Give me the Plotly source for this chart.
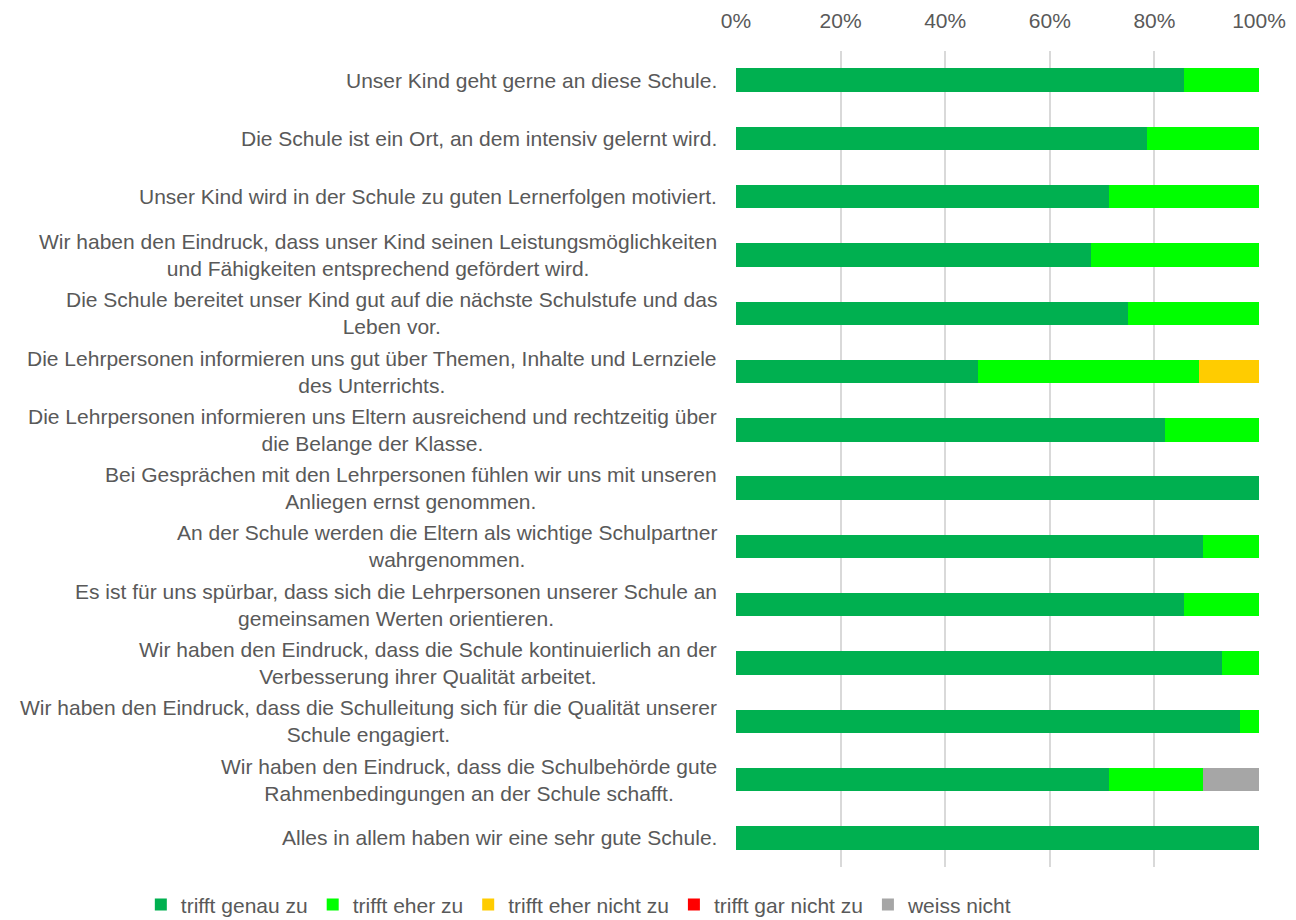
import plotly.graph_objects as go

# survey statements, top to bottom
statements = [
    "Unser Kind geht gerne an diese Schule.",
    "Die Schule ist ein Ort, an dem intensiv gelernt wird.",
    "Unser Kind wird in der Schule zu guten Lernerfolgen motiviert.",
    "Wir haben den Eindruck, dass unser Kind seinen Leistungsmöglichkeiten<br>und Fähigkeiten entsprechend gefördert wird.",
    "Die Schule bereitet unser Kind gut auf die nächste Schulstufe und das<br>Leben vor.",
    "Die Lehrpersonen informieren uns gut über Themen, Inhalte und Lernziele<br>des Unterrichts.",
    "Die Lehrpersonen informieren uns Eltern ausreichend und rechtzeitig über<br>die Belange der Klasse.",
    "Bei Gesprächen mit den Lehrpersonen fühlen wir uns mit unseren<br>Anliegen ernst genommen.",
    "An der Schule werden die Eltern als wichtige Schulpartner<br>wahrgenommen.",
    "Es ist für uns spürbar, dass sich die Lehrpersonen unserer Schule an<br>gemeinsamen Werten orientieren.",
    "Wir haben den Eindruck, dass die Schule kontinuierlich an der<br>Verbesserung ihrer Qualität arbeitet.",
    "Wir haben den Eindruck, dass die Schulleitung sich für die Qualität unserer<br>Schule engagiert.",
    "Wir haben den Eindruck, dass die Schulbehörde gute<br>Rahmenbedingungen an der Schule schafft.",
    "Alles in allem haben wir eine sehr gute Schule.",
]

# shares in percent
genau_zu = [85.7, 78.6, 71.4, 67.9, 75.0, 46.2, 82.1, 100.0, 89.3, 85.7, 92.9, 96.4, 71.4, 100.0]
eher_zu = [14.3, 21.4, 28.6, 32.1, 25.0, 42.3, 17.9, 0.0, 10.7, 14.3, 7.1, 3.6, 17.9, 0.0]
eher_nicht_zu = [0, 0, 0, 0, 0, 11.5, 0, 0, 0, 0, 0, 0, 0, 0]
gar_nicht_zu = [0, 0, 0, 0, 0, 0, 0, 0, 0, 0, 0, 0, 0, 0]
weiss_nicht = [0, 0, 0, 0, 0, 0, 0, 0, 0, 0, 0, 0, 10.7, 0]

series = [
    ("trifft genau zu", genau_zu, "#00B050"),
    ("trifft eher zu", eher_zu, "#00FF00"),
    ("trifft eher nicht zu", eher_nicht_zu, "#FFCC00"),
    ("trifft gar nicht zu", gar_nicht_zu, "#FF0000"),
    ("weiss nicht", weiss_nicht, "#A6A6A6"),
]

text_col = "#595959"
font_family = "Liberation Sans, Arial, sans-serif"
fs = 21

keys = [f"q{i}" for i in range(len(statements))]

fig = go.Figure()
for name, vals, col in series:
    fig.add_trace(go.Bar(
        x=vals, y=keys, name=name, orientation="h",
        marker=dict(color=col, line=dict(width=0)),
        width=0.4,
    ))

# category labels as annotations so wrapped lines are centred like the original
for k, s in zip(keys, statements):
    fig.add_annotation(
        x=0, xref="paper", y=k, yref="y", text=s, showarrow=False,
        xanchor="right", align="center", xshift=-17,
        font=dict(size=fs, color=text_col, family=font_family),
    )

fig.update_layout(
    barmode="stack",
    width=1296, height=920,
    margin=dict(l=728, r=45, t=43, b=61, autoexpand=False),
    paper_bgcolor="white", plot_bgcolor="white",
    font=dict(family=font_family, color=text_col, size=fs),
    # legend sits in the bottom margin; x < 0 lets it use the full width in one row
    legend=dict(
        orientation="h", xref="paper", yref="paper",
        x=-1.138, y=-0.0465, xanchor="left", yanchor="middle",
        font=dict(size=fs, color=text_col), itemwidth=30,
        traceorder="normal",
    ),
    xaxis=dict(
        side="top", range=[0, 100], tickvals=[0, 20, 40, 60, 80, 100],
        ticktext=["0%", "20%", "40%", "60%", "80%", "100%"],
        showgrid=True, gridcolor="#D9D9D9", gridwidth=1.5,
        zeroline=False, showline=False, ticks="",
        ticklabelstandoff=18,
        tickfont=dict(size=fs, color=text_col),
    ),
    yaxis=dict(
        categoryorder="array", categoryarray=keys, autorange="reversed",
        showticklabels=False, showgrid=False, zeroline=False, showline=False,
    ),
)

fig.write_html("out.html")
